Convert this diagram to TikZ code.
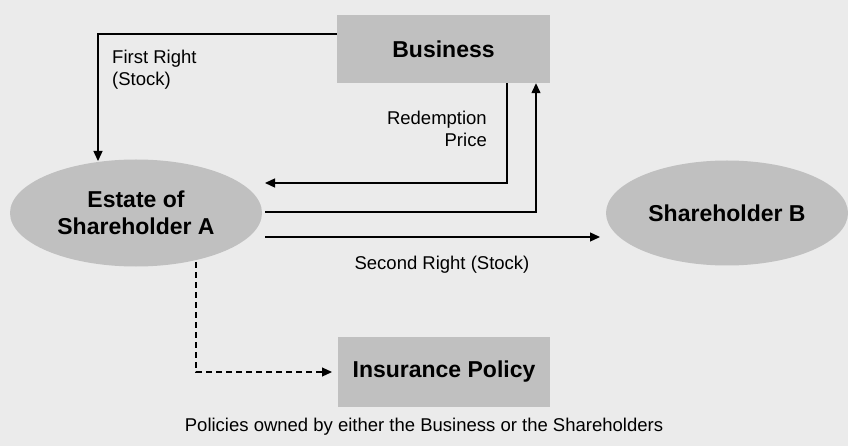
\documentclass[tikz,border=0pt]{standalone}
\usepackage{fontspec}
\setmainfont{Liberation Sans}
\usetikzlibrary{arrows.meta,shapes.geometric}
\definecolor{bg}{HTML}{EBEBEB}
\definecolor{boxfill}{HTML}{C0C0C0}
\begin{document}
\begin{tikzpicture}[x=1pt,y=-1pt,
  box/.style={rectangle,fill=boxfill,inner sep=0pt,font=\bfseries\fontsize{23}{27}\selectfont},
  oval/.style={ellipse,fill=boxfill,inner sep=0pt,align=center,font=\bfseries\fontsize{23}{27}\selectfont},
  lbl/.style={font=\fontsize{18.5}{22}\selectfont,inner sep=0pt},
  conn/.style={line width=1.3pt},
  arr/.style={conn,-{Triangle[length=10pt,width=9pt]}},
  darr/.style={line width=1.1pt,dash pattern=on 6pt off 4pt,-{Triangle[length=10pt,width=9pt]}}]
\fill[bg] (0,0) rectangle (848,446);
\useasboundingbox (0,0) rectangle (848,446);
% nodes
\node[box,minimum width=213pt,minimum height=68pt] (business) at (443.5,49) {Business};
\node[box,minimum width=212pt,minimum height=70pt] (insurance) at (444,372) {Insurance Policy};
\node[oval,minimum width=252pt,minimum height=107pt] (estate) at (136,213) {Estate of\\Shareholder A};
\node[oval,minimum width=242pt,minimum height=105pt] (shB) at (727,213) {Shareholder B};
% labels
\node[lbl,align=left,anchor=north west] (lfirst) at (112,50) {First Right\\(Stock)};
\node[lbl,align=right,anchor=north east] (lred) at (487,111) {Redemption\\Price};
\node[lbl,anchor=north] (lsecond) at (442,256) {Second Right (Stock)};
\node[lbl,anchor=north] (lfoot) at (424,418) {Policies owned by either the Business or the Shareholders};
% coordinates
\coordinate (fr) at (98,34);
\coordinate (frEnd) at (98,161);
\coordinate (r1) at (507,183);
\coordinate (r1End) at (265,183);
\coordinate (u1) at (265,212);
\coordinate (u2) at (536,212);
\coordinate (s1) at (265,237);
\coordinate (s1End) at (600,237);
\coordinate (d1) at (196,262);
\coordinate (d2) at (196,372);
\coordinate (dEnd) at (332,372);
% connectors
\draw[arr] (business.west |- fr) -- (fr) -- (frEnd);
\draw[arr] (business.south -| r1) -- (r1) -- (r1End);
\draw[arr] (u1) -- (u2) -- (business.south -| u2);
\draw[arr] (s1) -- (s1End);
\draw[darr] (d1) -- (d2) -- (dEnd);
\end{tikzpicture}
\end{document}
